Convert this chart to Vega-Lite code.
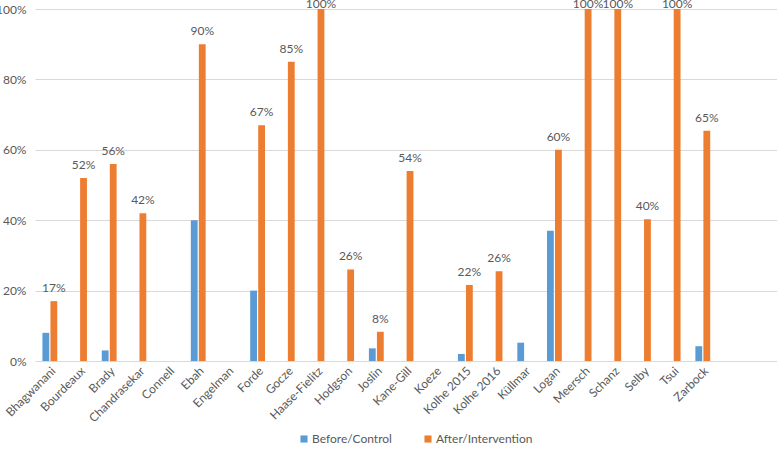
{
  "$schema": "https://vega.github.io/schema/vega-lite/v6.json",
  "width": 742,
  "height": 352,
  "autosize": "none",
  "padding": {"left": 35, "top": 9, "right": 0, "bottom": 89},
  "background": "white",
  "config": {
    "view": {"stroke": null},
    "font": "Lato",
    "axis": {"labelFont": "Lato", "labelColor": "#595959", "labelFontSize": 12},
    "legend": {"labelFont": "Lato", "labelColor": "#595959", "labelFontSize": 12}
  },
  "data": {
    "values": [
      {"study": "Bhagwanani", "group": "Before/Control", "value": 0.08},
      {"study": "Bhagwanani", "group": "After/Intervention", "value": 0.17},
      {"study": "Bourdeaux", "group": "After/Intervention", "value": 0.52},
      {"study": "Brady", "group": "Before/Control", "value": 0.03},
      {"study": "Brady", "group": "After/Intervention", "value": 0.56},
      {"study": "Chandrasekar", "group": "After/Intervention", "value": 0.42},
      {"study": "Ebah", "group": "Before/Control", "value": 0.40},
      {"study": "Ebah", "group": "After/Intervention", "value": 0.90},
      {"study": "Forde", "group": "Before/Control", "value": 0.20},
      {"study": "Forde", "group": "After/Intervention", "value": 0.67},
      {"study": "Gocze", "group": "After/Intervention", "value": 0.85},
      {"study": "Haase-Fielitz", "group": "After/Intervention", "value": 1.00},
      {"study": "Hodgson", "group": "After/Intervention", "value": 0.26},
      {"study": "Joslin", "group": "Before/Control", "value": 0.036},
      {"study": "Joslin", "group": "After/Intervention", "value": 0.083},
      {"study": "Kane-Gill", "group": "After/Intervention", "value": 0.54},
      {"study": "Kolhe 2015", "group": "Before/Control", "value": 0.02},
      {"study": "Kolhe 2015", "group": "After/Intervention", "value": 0.216},
      {"study": "Kolhe 2016", "group": "After/Intervention", "value": 0.255},
      {"study": "Küllmar", "group": "Before/Control", "value": 0.052},
      {"study": "Logan", "group": "Before/Control", "value": 0.37},
      {"study": "Logan", "group": "After/Intervention", "value": 0.60},
      {"study": "Meersch", "group": "After/Intervention", "value": 1.00},
      {"study": "Schanz", "group": "After/Intervention", "value": 1.00},
      {"study": "Selby", "group": "After/Intervention", "value": 0.403},
      {"study": "Tsui", "group": "After/Intervention", "value": 1.00},
      {"study": "Zarbock", "group": "Before/Control", "value": 0.042},
      {"study": "Zarbock", "group": "After/Intervention", "value": 0.654}
    ]
  },
  "encoding": {
    "x": {
      "field": "study",
      "type": "nominal",
      "sort": null,
      "scale": {
        "domain": ["Bhagwanani", "Bourdeaux", "Brady", "Chandrasekar", "Connell", "Ebah", "Engelman", "Forde", "Gocze", "Haase-Fielitz", "Hodgson", "Joslin", "Kane-Gill", "Koeze", "Kolhe 2015", "Kolhe 2016", "Küllmar", "Logan", "Meersch", "Schanz", "Selby", "Tsui", "Zarbock", "_e1", "_e2"],
        "paddingInner": 0.5,
        "paddingOuter": 0.25
      },
      "axis": {
        "title": null,
        "labelAngle": -45,
        "labelAlign": "right",
        "labelBaseline": "top",
        "labelPadding": 4,
        "labelExpr": "indexof(datum.value, '_e') === 0 ? '' : datum.value",
        "ticks": false,
        "domainColor": "#D9D9D9",
        "grid": false
      }
    },
    "y": {
      "field": "value",
      "type": "quantitative",
      "scale": {"domain": [0, 1], "nice": false},
      "axis": {
        "title": null,
        "format": ".0%",
        "values": [0, 0.2, 0.4, 0.6, 0.8, 1.0],
        "domain": false,
        "ticks": false,
        "labelPadding": 9,
        "gridColor": "#D9D9D9",
        "gridWidth": 1
      }
    },
    "xOffset": {
      "field": "group",
      "type": "nominal",
      "scale": {"domain": ["Before/Control", "After/Intervention"], "paddingInner": 0.15}
    }
  },
  "layer": [
    {
      "mark": {"type": "bar"},
      "encoding": {
        "color": {
          "field": "group",
          "type": "nominal",
          "scale": {"domain": ["Before/Control", "After/Intervention"], "range": ["#5B9BD5", "#ED7D31"]},
          "legend": {
            "title": null,
            "orient": "none",
            "direction": "horizontal",
            "legendX": 263,
            "legendY": 424,
            "symbolType": "square",
            "symbolSize": 50,
            "symbolStrokeWidth": 0,
            "columnPadding": 30,
            "labelOffset": 2
          }
        }
      }
    },
    {
      "transform": [{"filter": "datum.group === 'After/Intervention'"}],
      "mark": {"type": "text", "baseline": "bottom", "dy": {"expr": "datum.value >= 0.99 ? 2 : -6"}, "color": "#595959", "fontSize": 12, "font": "Lato"},
      "encoding": {
        "text": {"field": "value", "type": "quantitative", "format": ".0%"}
      }
    }
  ]
}
